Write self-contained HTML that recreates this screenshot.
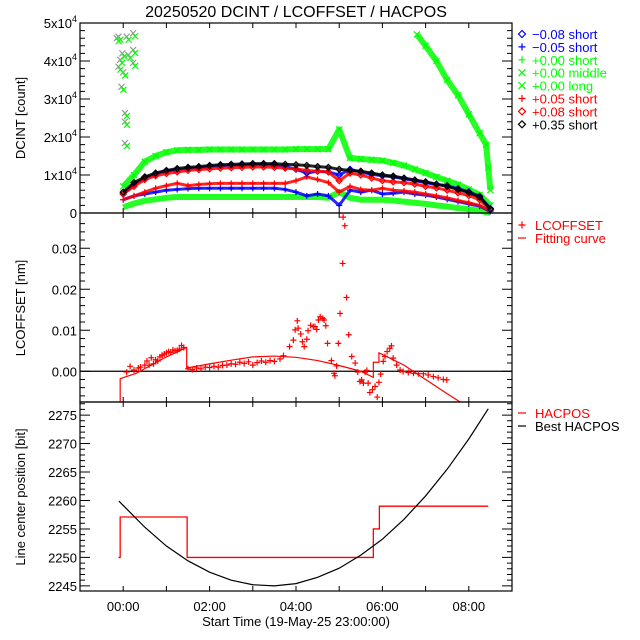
<!DOCTYPE html>
<html><head><meta charset="utf-8"><style>
html,body{margin:0;padding:0;background:#fff}
svg{display:block;font-family:"Liberation Sans",sans-serif}
</style></head><body>
<svg id="chart" width="640" height="640" viewBox="0 0 640 640" xmlns="http://www.w3.org/2000/svg">
<rect width="640" height="640" fill="#fff"/>
<text x="296" y="17" font-size="16" text-anchor="middle" fill="#000">20250520  DCINT  /  LCOFFSET  /  HACPOS</text>
<g id="g1"></g>
<g id="g2"></g>
<g id="g3"></g>
<text transform="translate(25,118) rotate(-90)" font-size="13" text-anchor="middle">DCINT [count]</text>
<text transform="translate(25,308) rotate(-90)" font-size="13" text-anchor="middle">LCOFFSET [nm]</text>
<text transform="translate(25,497) rotate(-90)" font-size="13" text-anchor="middle">Line center position [bit]</text>
<text x="296" y="626" font-size="13" text-anchor="middle">Start Time (19-May-25 23:00:00)</text>
</svg>
<script>
// ---- data ----
const tGrid = [0,0.25,0.5,0.75,1,1.25,1.5,1.75,2,2.25,2.5,2.75,3,3.25,3.5,3.75,4,4.25,4.5,4.75,5,5.25,5.5,5.75,6,6.25,6.5,6.75,7,7.25,7.5,7.75,8,8.25,8.5];
const blackDiamond = [0.55,0.8,0.95,1.05,1.12,1.17,1.2,1.22,1.25,1.27,1.28,1.29,1.3,1.3,1.3,1.28,1.27,1.25,1.22,1.2,1.15,1.12,1.1,1.05,1.0,0.97,0.92,0.87,0.82,0.76,0.7,0.62,0.54,0.42,0.1];
const blueDiamond = [0.5,0.75,0.92,1.02,1.1,1.14,1.17,1.19,1.22,1.24,1.25,1.26,1.27,1.27,1.26,1.22,1.15,1.05,1.1,1.08,1.0,1.15,1.08,1.02,0.98,0.95,0.9,0.85,0.8,0.75,0.72,0.64,0.56,0.44,0.12];
const redDiamond = [0.5,0.7,0.88,0.98,1.04,1.08,1.12,1.14,1.16,1.18,1.19,1.2,1.21,1.21,1.2,1.18,1.16,1.12,1.1,1.08,0.85,1.05,1.0,0.92,0.85,0.82,0.8,0.76,0.7,0.66,0.6,0.53,0.46,0.35,0.08];
const redPlus = [0.35,0.45,0.55,0.65,0.72,0.78,0.72,0.75,0.77,0.78,0.78,0.78,0.78,0.78,0.78,0.78,0.85,0.95,0.88,0.8,0.55,0.7,0.62,0.6,0.65,0.6,0.58,0.55,0.5,0.45,0.4,0.33,0.27,0.2,0.05];
const bluePlus = [0.35,0.45,0.5,0.55,0.6,0.62,0.64,0.65,0.65,0.65,0.65,0.65,0.65,0.65,0.65,0.62,0.55,0.45,0.5,0.45,0.2,0.6,0.55,0.6,0.5,0.52,0.55,0.5,0.47,0.42,0.36,0.3,0.24,0.18,0.04];
const greenPlus = [0.15,0.25,0.32,0.36,0.4,0.42,0.42,0.42,0.42,0.42,0.42,0.42,0.42,0.42,0.42,0.42,0.42,0.42,0.42,0.4,0.55,0.4,0.35,0.35,0.35,0.33,0.3,0.27,0.24,0.2,0.17,0.13,0.1,0.06,0];
const greenMiddle = [0.7,1.0,1.35,1.5,1.6,1.65,1.66,1.66,1.67,1.67,1.67,1.67,1.67,1.67,1.67,1.67,1.68,1.68,1.68,1.68,2.2,1.45,1.42,1.4,1.38,1.32,1.25,1.15,1.05,0.95,0.85,0.75,0.62,0.48,0.2];
const longT1 = [-0.15,-0.11,-0.11,-0.07,-0.04,0.04,0.04,0.04,0.08,0.12,0.23,0.23,0.23,-0.02,0.0];
const longV1 = [4.6,4.64,3.85,4.03,3.32,2.63,2.4,1.84,4.64,4.16,4.73,4.29,3.95,4.2,3.7];
const longT2 = [6.8,7.0,7.25,7.5,7.75,8.0,8.25,8.4,8.45,8.5];
const longV2 = [4.7,4.4,4.0,3.5,3.1,2.6,2.1,1.8,1.2,0.6];

const lcT = [0.08,0.16,0.25,0.35,0.4,0.5,0.55,0.6,0.65,0.7,0.75,0.8,0.85,0.9,0.95,1.0,1.05,1.1,1.15,1.2,1.25,1.3,1.35,1.4,
 1.5,1.6,1.7,1.8,1.9,2.0,2.1,2.2,2.3,2.4,2.5,2.6,2.7,2.8,2.9,3.0,3.1,3.2,3.3,3.4,3.5,
 3.63,3.71,3.85,3.94,3.98,4.03,4.05,4.11,4.15,4.19,4.25,4.28,4.34,4.40,4.44,4.48,4.52,4.56,4.62,4.65,4.69,4.73,4.82,4.88,4.90,4.94,4.98,5.02,5.08,5.09,5.13,5.17,5.22,5.29,5.37,5.43,5.48,5.52,5.56,5.60,5.64,5.67,5.71,5.77,5.83,5.88,5.92,5.96,6.02,6.06,6.11,6.17,6.21,6.25,6.33,6.41,6.48,6.60,6.72,6.83,6.95,7.06,7.18,7.29,7.41,7.49];
const lcV = [-0.2,1.2,0.3,0.8,1.0,1.5,2.5,1.5,3.3,1.8,2.8,2.5,3.5,3.9,4.2,4.5,4.8,4.6,5.2,5.0,5.1,5.4,6.3,5.8,
 0.6,0.4,0.8,0.6,1.0,0.9,1.2,1.0,1.4,1.5,1.8,1.7,2.2,1.9,2.3,1.5,2.1,2.5,2.2,2.6,2.4,
 3.0,3.8,6.0,7.6,10.1,12.3,10.5,9.1,7.2,6.0,7.8,9.9,11.2,10.9,10.9,10.2,12.5,13.3,12.9,12.5,11.1,6.8,2.6,-0.5,-1.1,1.3,6.8,14.1,26.3,37.6,35.5,18.0,8.9,3.6,2.0,-0.2,-2.5,-2.1,-2.9,-0.2,0.2,-2.9,-5.2,-4.5,-3.7,-6.3,-2.7,-0.7,2.4,3.6,4.8,5.6,6.2,3.2,1.5,0.3,-0.1,-0.3,-0.5,-0.6,-0.6,-0.9,-1.3,-1.6,-2.0,-2.1,-2.4,-3.1];
const fitT = [-0.07,-0.07,0.3,1.0,1.47,1.47,2.0,2.5,3.0,3.5,4.0,4.5,5.0,5.5,5.79,5.79,5.92,5.92,6.5,7.0,7.5,7.8];
const fitV = [-7.5,-1.8,-0.5,3.5,5.8,0.8,1.8,2.7,3.5,3.7,3.4,2.6,1.4,0.0,-1.5,2.2,2.2,4.5,1.5,-2.0,-5.5,-7.5];

const hacT = [-0.11,-0.07,-0.07,1.48,1.48,5.79,5.79,5.93,5.93,8.45];
const hacV = [2250,2250,2257.1,2257.1,2250,2250,2255,2255,2259,2259];
const bestT = [-0.1,0.5,1,1.5,2,2.5,3,3.5,4,4.5,5,5.5,6,6.5,7,7.5,8,8.45];
const bestV = [2259.9,2255.3,2252.0,2249.4,2247.4,2246.0,2245.2,2245.0,2245.4,2246.5,2248.1,2250.4,2253.2,2256.7,2260.8,2265.5,2270.8,2276.1];

const xTickHours = [0,1,2,3,4,5,6,7,8];
const xTickLabels = ["00:00","02:00","04:00","06:00","08:00"];

// ---- axes ----
const NS='http://www.w3.org/2000/svg';
const X0=80, X1=512;
const xS = t => X0 + (t+1)/10*(X1-X0);
function mk(parent,tag,attrs){const e=document.createElementNS(NS,tag);for(const k in attrs)e.setAttribute(k,attrs[k]);parent.appendChild(e);return e;}
const P1={top:23,bot:213,min:0,max:5}, P2={top:213,bot:402,min:-7.5,max:38.6}, P3={top:402,bot:591,min:2244.1,max:2277.3};
const yS=(p,v)=>p.bot-(v-p.min)/(p.max-p.min)*(p.bot-p.top);
const g1=document.getElementById('g1'),g2=document.getElementById('g2'),g3=document.getElementById('g3');

function frame(g,p,name,majors,minors){
  const r=mk(g,'rect',{x:X0,y:p.top,width:X1-X0,height:p.bot-p.top,fill:'none',stroke:'#000','stroke-width':1.2});
  
  
  let d='';
  xTickHours.forEach(h=>{const x=xS(h);d+=`M${x} ${p.bot}v-5M${x} ${p.top}v5`;});
  majors.forEach(v=>{const y=yS(p,v);d+=`M${X0} ${y}h10M${X1} ${y}h-10`;});
  minors.forEach(v=>{const y=yS(p,v);d+=`M${X0} ${y}h5M${X1} ${y}h-5`;});
  const t=mk(g,'path',{d:d,stroke:'#000','stroke-width':1,fill:'none'});
  
  
}
function ylabel(g,p,v,txt,sup){
  const e=mk(g,'text',{x:77,y:yS(p,v)+5,'font-size':13,'text-anchor':'end'});
  
  
  e.textContent=txt;
  if(sup){const s=mk(e,'tspan',{dy:-6,'font-size':9});s.textContent=sup;}
}
// panel 1
let min1=[];for(let v=0.2;v<5;v+=0.2){if(Math.abs(v-Math.round(v))>0.01)min1.push(v);}
frame(g1,P1,'dcint-panel',[0,1,2,3,4,5],min1);
ylabel(g1,P1,0,'0');[1,2,3,4,5].forEach(k=>ylabel(g1,P1,k,k+'x10','4'));
// panel 2
let min2=[];for(let v=-6;v<38;v+=2){if(v%10!==0)min2.push(v);}
frame(g2,P2,'lcoffset-panel',[0,10,20,30],min2);
[[0,'0.00'],[10,'0.01'],[20,'0.02'],[30,'0.03']].forEach(a=>ylabel(g2,P2,a[0],a[1]));
// panel 3
let min3=[];for(let v=2245;v<=2277;v++){if(v%5!==0)min3.push(v);}
frame(g3,P3,'hacpos-panel',[2245,2250,2255,2260,2265,2270,2275],min3);
[2245,2250,2255,2260,2265,2270,2275].forEach(v=>ylabel(g3,P3,v,String(v)));
xTickLabels.forEach((l,i)=>{const e=mk(g3,'text',{x:xS(i*2),y:611,'font-size':13,'text-anchor':'middle'});
  
  
  e.textContent=l;});

// markers
function marker(g,type,x,y,c,s){
  let d;
  if(type==='plus')d=`M${x-s} ${y}h${2*s}M${x} ${y-s}v${2*s}`;
  else if(type==='x')d=`M${x-s} ${y-s}l${2*s} ${2*s}M${x-s} ${y+s}l${2*s} ${-2*s}`;
  else d=`M${x-s} ${y}L${x} ${y-s}L${x+s} ${y}L${x} ${y+s}Z`;
  const e=mk(g,'path',{d:d,stroke:c,'stroke-width':1.2,fill:'none'});
  
  
}
function band(g,p,ts,vs,c,w,name){
  const e=mk(g,'polyline',{points:ts.map((t,i)=>xS(t)+','+yS(p,vs[i])).join(' '),stroke:c,'stroke-width':w,fill:'none','stroke-linejoin':'round','stroke-opacity':0.85});
  
  
}
const GRN='#00ff00', RED='#ff0000', BLU='#0000ff';
band(g1,P1,tGrid,greenMiddle,GRN,6,'series-green-middle-band');
tGrid.forEach((t,i)=>marker(g1,'x',xS(t),yS(P1,greenMiddle[i]),GRN,3));
band(g1,P1,longT2,longV2,GRN,6,'series-green-long-band');
longT1.forEach((t,i)=>marker(g1,'x',xS(t),yS(P1,longV1[i]),'#999',3));
longT1.forEach((t,i)=>marker(g1,'x',xS(t)+2,yS(P1,longV1[i])+3,GRN,3));
longT2.forEach((t,i)=>marker(g1,'x',xS(t),yS(P1,longV2[i]),GRN,3));
band(g1,P1,tGrid,greenPlus,GRN,6,'series-green-short-band');
band(g1,P1,tGrid,bluePlus,BLU,3,'series-blue-plus-band');
tGrid.forEach((t,i)=>marker(g1,'plus',xS(t),yS(P1,bluePlus[i]),BLU,3));
band(g1,P1,tGrid,redPlus,RED,3,'series-red-plus-band');
tGrid.forEach((t,i)=>marker(g1,'plus',xS(t),yS(P1,redPlus[i]),RED,3));
band(g1,P1,tGrid,blueDiamond,BLU,3,'series-blue-diamond-band');
tGrid.forEach((t,i)=>marker(g1,'d',xS(t),yS(P1,blueDiamond[i]),BLU,3));
band(g1,P1,tGrid,redDiamond,RED,3,'series-red-diamond-band');
tGrid.forEach((t,i)=>marker(g1,'d',xS(t),yS(P1,redDiamond[i]),RED,3));
band(g1,P1,tGrid,blackDiamond,'#000',3,'series-black-diamond-band');
tGrid.forEach((t,i)=>marker(g1,'d',xS(t),yS(P1,blackDiamond[i]),'#000',3));

// panel 2
const z=mk(g2,'line',{x1:X0,x2:X1,y1:yS(P2,0),y2:yS(P2,0),stroke:'#000','stroke-width':1.2});


const fc=mk(g2,'polyline',{points:fitT.map((t,i)=>xS(t)+','+yS(P2,fitV[i])).join(' '),stroke:RED,'stroke-width':1.2,fill:'none'});


lcT.forEach((t,i)=>marker(g2,'plus',xS(t),yS(P2,lcV[i]),RED,3));

// panel 3
const hc=mk(g3,'polyline',{points:hacT.map((t,i)=>xS(t)+','+yS(P3,hacV[i])).join(' '),stroke:RED,'stroke-width':1.3,fill:'none'});


const bc=mk(g3,'polyline',{points:bestT.map((t,i)=>xS(t)+','+yS(P3,bestV[i])).join(' '),stroke:'#000','stroke-width':1.2,fill:'none'});



// legends
const svg=document.getElementById('chart');
const leg1=[['d',BLU,'\u22120.08 short'],['plus',BLU,'\u22120.05 short'],['plus',GRN,'+0.00 short'],['x',GRN,'+0.00 middle'],['x',GRN,'+0.00 long'],['plus',RED,'+0.05 short'],['d',RED,'+0.08 short'],['d','#000','+0.35 short']];
leg1.forEach((l,i)=>{const y=34+i*12.9;marker(svg,l[0],522,y,l[1],3.5);
  const e=mk(svg,'text',{x:532,y:y+5,'font-size':13,fill:l[1]});
  
  
  e.textContent=l[2];});
function lineLeg(y,c,txt,sym){
  if(sym==='plus')marker(svg,'plus',522,y,c,3.5);
  else mk(svg,'line',{x1:518,x2:526,y1:y,y2:y,stroke:c,'stroke-width':1.2});
  const e=mk(svg,'text',{x:535,y:y+5,'font-size':13,fill:c});
  
  
  e.textContent=txt;
}
lineLeg(225,RED,'LCOFFSET','plus');
lineLeg(238,RED,'Fitting curve');
lineLeg(413,RED,'HACPOS');
lineLeg(426,'#000','Best HACPOS');
</script>
</body></html>
